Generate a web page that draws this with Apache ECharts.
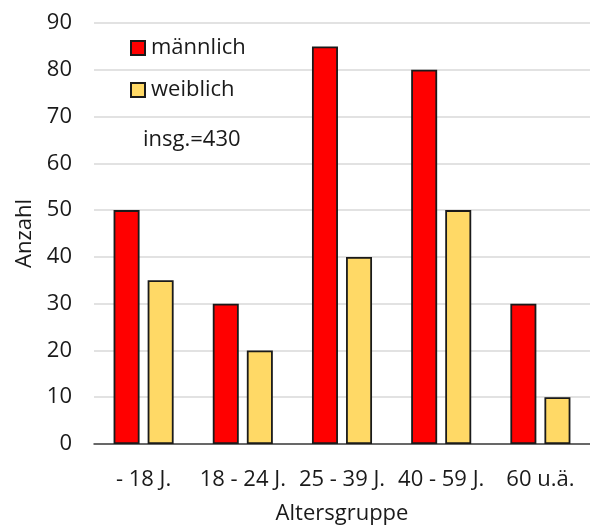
<!DOCTYPE html>
<html><head><meta charset="utf-8">
<script src="https://cdn.jsdelivr.net/npm/echarts@6/dist/echarts.min.js"></script>
<style>html,body{margin:0;padding:0;background:#fff}#c{width:590px;height:525px}</style>
</head><body><div id="c"></div>
<script>
const categories = ['- 18 J.', '18 - 24 J.', '25 - 39 J.', '40 - 59 J.', '60 u.ä.'];
const maennlich = [50, 30, 85, 80, 30];
const weiblich = [35, 20, 40, 50, 10];
const totalLabel = 'insg.=430';
const F = '"Open Sans", "Noto Sans", sans-serif';
const FS = 22;
const chart = echarts.init(document.getElementById('c'));
chart.setOption({
  animation: false,
  textStyle: {fontFamily: F},
  title: {text: totalLabel, left: 138, top: 124, textStyle: {fontFamily: F, fontSize: FS, fontWeight: 'normal', color: '#1a1a1a'}},
  legend: {
    orient: 'vertical', left: 125, top: 32, itemWidth: 14, itemHeight: 14, itemGap: 20,
    icon: 'rect', textStyle: {fontFamily: F, fontSize: FS, color: '#1a1a1a', padding: [0,0,0,1]},
    data: ['männlich', 'weiblich']
  },
  grid: {left: 94, right: 0, top: 23, bottom: 81, outerBoundsMode: 'none', containLabel: false},
  xAxis: {
    type: 'category', data: categories,
    axisLine: {lineStyle: {color: '#404040', width: 1.5}},
    axisTick: {show: false},
    axisLabel: {fontFamily: F, fontSize: FS, color: '#1a1a1a', margin: 25, interval: 0},
    name: 'Altersgruppe', nameLocation: 'middle', nameGap: 59,
    nameTextStyle: {fontFamily: F, fontSize: FS, color: '#1a1a1a'}
  },
  yAxis: {
    type: 'value', min: 0, max: 90, interval: 10,
    axisLine: {show: false}, axisTick: {show: false},
    splitLine: {lineStyle: {color: '#d9d9d9', width: 1.5}},
    axisLabel: {fontFamily: F, fontSize: FS, color: '#1a1a1a', margin: 22},
    name: 'Anzahl', nameLocation: 'middle', nameGap: 51,
    nameTextStyle: {fontFamily: F, fontSize: FS, color: '#1a1a1a'}
  },
  series: [
    {name: 'männlich', type: 'bar', data: maennlich, barWidth: 26, barGap: '31%',
     itemStyle: {color: '#ff0000', borderColor: '#1a1a1a', borderWidth: 1.8}},
    {name: 'weiblich', type: 'bar', data: weiblich, barWidth: 26,
     itemStyle: {color: '#ffd966', borderColor: '#1a1a1a', borderWidth: 1.8}}
  ]
});
</script></body></html>
